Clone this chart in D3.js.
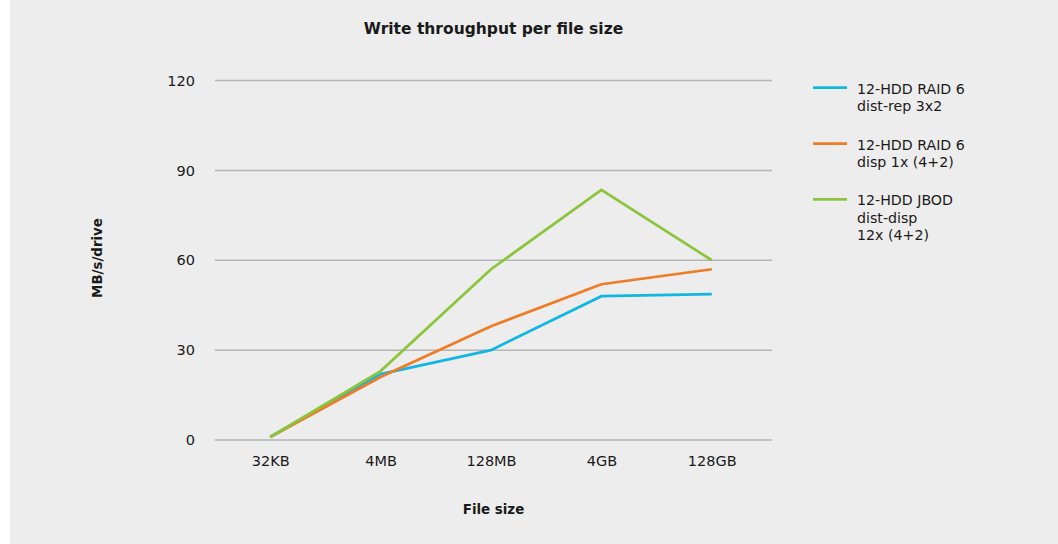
<!DOCTYPE html>
<html>
<head>
<meta charset="utf-8">
<script src="https://cdn.jsdelivr.net/npm/d3@7"></script>
<style>
  html, body { margin: 0; padding: 0; background: #ffffff; }
  svg { display: block; }
  text { font-family: "DejaVu Sans", sans-serif; fill: #1a1a1a; }
</style>
</head>
<body>
<script>
const categories = ["32KB", "4MB", "128MB", "4GB", "128GB"];
const raid6DistRep = [1, 22, 30, 48, 48.7];
const raid6Disp = [1, 21, 38, 52, 57];
const jbodDistDisp = [1, 23, 57, 83.5, 60];
const yTicks = [0, 30, 60, 90, 120];
const seriesNames = [
  ["12-HDD RAID 6", "dist-rep 3x2"],
  ["12-HDD RAID 6", "disp 1x (4+2)"],
  ["12-HDD JBOD", "dist-disp", "12x (4+2)"]
];
const seriesColors = ["#12b6e4", "#ef7c25", "#8cc43c"];
const seriesValues = [raid6DistRep, raid6Disp, jbodDistDisp];

const W = 1058, H = 544;
const svg = d3.select("body").append("svg").attr("width", W).attr("height", H);

svg.append("rect").attr("x", 10).attr("y", 0).attr("width", W - 10).attr("height", H).attr("fill", "#ededed");

const plotLeft = 215, plotRight = 772;
const x = d3.scalePoint().domain(categories).range([215, 767]).padding(0.5);
const y = d3.scaleLinear().domain([0, 120]).range([440, 80.5]);

// gridlines
svg.append("g").selectAll("line").data(yTicks).join("line")
  .attr("x1", plotLeft).attr("x2", plotRight)
  .attr("y1", d => y(d)).attr("y2", d => y(d))
  .attr("stroke", "#b5b5b5").attr("stroke-width", 1.5);

// y axis labels
const yAxis = d3.axisLeft(y).tickValues(yTicks).tickSize(0).tickPadding(0);
const gy = svg.append("g").attr("transform", "translate(195,0)").call(yAxis);
gy.select(".domain").remove();
gy.selectAll("text").style("font-family", "DejaVu Sans, sans-serif").style("font-size", "14.5px").attr("fill", "#1a1a1a");

// x axis labels
const xAxis = d3.axisBottom(x).tickSize(0).tickPadding(0);
const gx = svg.append("g").attr("transform", "translate(0,456)").call(xAxis);
gx.select(".domain").remove();
gx.selectAll("text").style("font-family", "DejaVu Sans, sans-serif").style("font-size", "14.5px").attr("fill", "#1a1a1a");

// lines
const line = d3.line().x((d, i) => x(categories[i])).y(d => y(d));
svg.append("g").selectAll("path").data(seriesValues).join("path")
  .attr("d", d => line(d))
  .attr("fill", "none")
  .attr("stroke", (d, i) => seriesColors[i])
  .attr("stroke-width", 2.75)
  .attr("stroke-linejoin", "miter");

// title
svg.append("text").attr("x", 493.5).attr("y", 33.5).attr("text-anchor", "middle")
  .style("font-size", "15.5px").style("font-weight", "bold").attr("fill", "#111").text("Write throughput per file size");

// axis titles
svg.append("text").attr("x", 493.5).attr("y", 514).attr("text-anchor", "middle")
  .style("font-size", "13.4px").style("font-weight", "bold").text("File size");
svg.append("text").attr("transform", "translate(102,258) rotate(-90)").attr("text-anchor", "middle")
  .style("font-size", "13.4px").style("font-weight", "bold").text("MB/s/drive");

// legend
const legendY = [87.7, 143.7, 199.3];
const lg = svg.append("g").selectAll("g").data(seriesNames).join("g")
  .attr("transform", (d, i) => `translate(813,${legendY[i]})`);
lg.append("line").attr("x1", 0).attr("x2", 34).attr("y1", 0).attr("y2", 0)
  .attr("stroke", (d, i) => seriesColors[i]).attr("stroke-width", 2.75);
lg.each(function(d) {
  const t = d3.select(this).append("text").attr("x", 44).attr("y", 6).style("font-size", "14.2px");
  t.selectAll("tspan").data(d).join("tspan").attr("x", 44).attr("dy", (v, j) => j === 0 ? 0 : 17.3).text(v => v);
});
</script>
</body>
</html>
